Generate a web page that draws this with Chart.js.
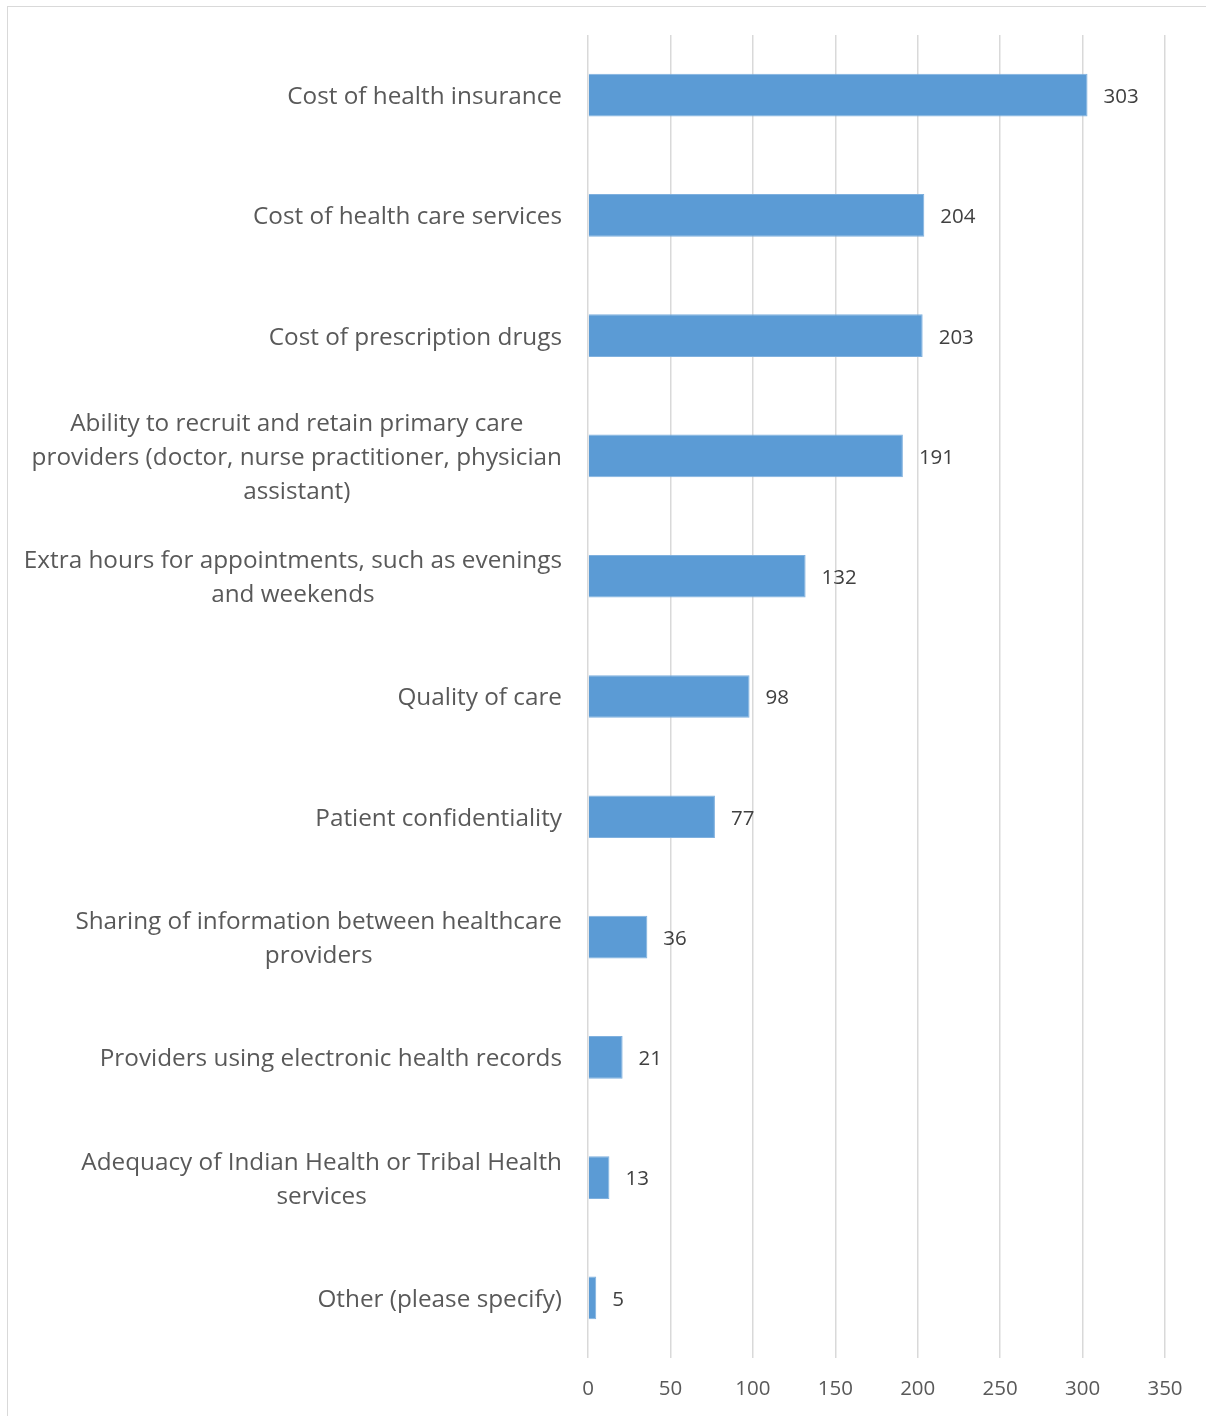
<!DOCTYPE html>
<html>
<head>
<meta charset="utf-8">
<script src="https://cdn.jsdelivr.net/npm/chart.js@4"></script>
<style>
  html, body { margin: 0; padding: 0; background: #fff; }
  #wrap { position: relative; width: 1206px; height: 1416px; }
  #frame { position: absolute; left: 7px; top: 6px; right: 0; bottom: 0; border-left: 1.5px solid #D9D9D9; border-top: 1.5px solid #D9D9D9; }
  canvas { position: absolute; left: 0; top: 0; }
</style>
</head>
<body>
<div id="wrap">
  <div id="frame"></div>
  <canvas id="barChart" width="1206" height="1416"></canvas>
</div>
<script>
const categories = [
  'Cost of health insurance',
  'Cost of health care services',
  'Cost of prescription drugs',
  ['Ability to recruit and retain primary care', 'providers (doctor, nurse practitioner, physician', 'assistant)'],
  ['Extra hours for appointments, such as evenings', 'and weekends'],
  'Quality of care',
  'Patient confidentiality',
  ['Sharing of information between healthcare', 'providers'],
  'Providers using electronic health records',
  ['Adequacy of Indian Health or Tribal Health', 'services'],
  'Other (please specify)'
];
const responses = [303, 204, 203, 191, 132, 98, 77, 36, 21, 13, 5];
const xTicks = [0, 50, 100, 150, 200, 250, 300, 350];

document.addEventListener('DOMContentLoaded', () => {
  const labelFont = '24.3px "Open Sans"';
  const lineHeight = 34;

  // category labels: block right-aligned, lines centred inside the block
  const categoryLabels = {
    id: 'categoryLabels',
    afterDraw(chart) {
      const ctx = chart.ctx;
      const yScale = chart.scales.y;
      const right = chart.chartArea.left - 26;
      ctx.save();
      ctx.font = labelFont;
      ctx.fillStyle = '#595959';
      ctx.textAlign = 'center';
      ctx.textBaseline = 'middle';
      categories.forEach((label, i) => {
        const lines = Array.isArray(label) ? label : [label];
        const widest = Math.max(...lines.map(l => ctx.measureText(l).width));
        const cx = right - widest / 2;
        const y0 = yScale.getPixelForTick(i) + 2 - (lines.length - 1) * lineHeight / 2;
        lines.forEach((l, j) => ctx.fillText(l, cx, y0 + j * lineHeight));
      });
      ctx.restore();
    }
  };

  // value labels at the end of each bar
  const valueLabels = {
    id: 'valueLabels',
    afterDatasetsDraw(chart) {
      const ctx = chart.ctx;
      const meta = chart.getDatasetMeta(0);
      ctx.save();
      ctx.font = '20.5px "Open Sans"';
      ctx.fillStyle = '#404040';
      ctx.textAlign = 'left';
      ctx.textBaseline = 'middle';
      meta.data.forEach((bar, i) => {
        ctx.fillText(String(responses[i]), bar.x + 16, bar.y + 2);
      });
      ctx.restore();
    }
  };

  const ctx = document.getElementById('barChart').getContext('2d');
  new Chart(ctx, {
    type: 'bar',
    data: {
      labels: categories,
      datasets: [{
        data: responses,
        backgroundColor: '#5B9BD5',
        borderColor: '#7FB0DE',
        borderWidth: 1,
        barPercentage: 0.71,
        categoryPercentage: 0.5
      }]
    },
    options: {
      indexAxis: 'y',
      responsive: false,
      animation: false,
      layout: { padding: { top: 35, right: 41, bottom: 0, left: 0 } },
      plugins: {
        legend: { display: false },
        tooltip: { enabled: false }
      },
      scales: {
        x: {
          min: 0,
          max: 350,
          afterBuildTicks: (scale) => { scale.ticks = xTicks.map(v => ({ value: v })); },
          afterFit: (scale) => { scale.height = 58; },
          grid: { color: '#D9D9D9', lineWidth: 1.5, drawTicks: false },
          border: { display: false },
          ticks: {
            color: '#595959',
            font: { family: 'Open Sans', size: 20.5 },
            padding: 19
          }
        },
        y: {
          afterFit: (scale) => { scale.width = 588; },
          grid: { display: false, drawTicks: false },
          border: { display: false },
          ticks: { display: false }
        }
      }
    },
    plugins: [categoryLabels, valueLabels]
  });
});
</script>
</body>
</html>
